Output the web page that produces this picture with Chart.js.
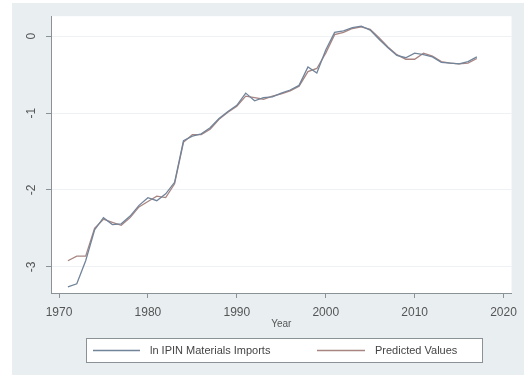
<!DOCTYPE html>
<html>
<head>
<meta charset="utf-8">
<script src="https://cdn.jsdelivr.net/npm/chart.js@4"></script>
<style>
  html, body { margin: 0; padding: 0; background: #ffffff; }
  #wrap { position: absolute; left: 0; top: 0; width: 524px; height: 378px; }
</style>
</head>
<body>
<div id="wrap"><canvas id="grafico" width="524" height="378"></canvas></div>
<script>
// Dados
const anos = [1971, 1972, 1973, 1974, 1975, 1976, 1977, 1978, 1979, 1980,
  1981, 1982, 1983, 1984, 1985, 1986, 1987, 1988, 1989, 1990,
  1991, 1992, 1993, 1994, 1995, 1996, 1997, 1998, 1999, 2000,
  2001, 2002, 2003, 2004, 2005, 2006, 2007, 2008, 2009, 2010,
  2011, 2012, 2013, 2014, 2015, 2016, 2017];

const importacoes = [-3.26, -3.22, -2.92, -2.52, -2.36, -2.45, -2.44, -2.34, -2.20, -2.10,
  -2.14, -2.05, -1.90, -1.36, -1.30, -1.27, -1.19, -1.07, -0.98, -0.90,
  -0.74, -0.84, -0.80, -0.79, -0.74, -0.70, -0.64, -0.40, -0.48, -0.18,
  0.05, 0.07, 0.11, 0.13, 0.08, -0.04, -0.15, -0.25, -0.28, -0.22,
  -0.24, -0.27, -0.34, -0.35, -0.36, -0.33, -0.27];

const previstos = [-2.92, -2.86, -2.86, -2.50, -2.38, -2.42, -2.46, -2.36, -2.22, -2.15,
  -2.08, -2.10, -1.92, -1.38, -1.28, -1.28, -1.21, -1.08, -0.99, -0.91,
  -0.78, -0.80, -0.82, -0.78, -0.75, -0.71, -0.65, -0.46, -0.42, -0.22,
  0.02, 0.05, 0.10, 0.12, 0.09, -0.02, -0.14, -0.24, -0.30, -0.30,
  -0.22, -0.26, -0.33, -0.35, -0.36, -0.35, -0.29];

const ticksX = [1970, 1980, 1990, 2000, 2010, 2020];
const ticksY = [-3, -2, -1, 0];
const rotulos = ['ln IPIN Materials Imports', 'Predicted Values'];

const corReal = '#71849a';
const corPrevista = '#a98582';

// Fundo estilo Stata: região cinza-azulada e área do gráfico branca
const fundoPlugin = {
  id: 'fundo',
  beforeDraw(chart) {
    const c = chart.ctx;
    const a = chart.chartArea;
    c.save();
    c.fillStyle = '#ffffff';
    c.fillRect(0, 0, chart.width, chart.height);
    c.fillStyle = '#e9eef1';
    c.fillRect(12, 3, chart.width - 12, chart.height - 6);
    c.fillStyle = '#ffffff';
    c.fillRect(a.left, a.top, a.right - a.left, a.bottom - a.top);
    c.restore();
  }
};

// Legenda com caixa, desenhada à mão
const legendaPlugin = {
  id: 'legendaCaixa',
  afterDraw(chart) {
    const c = chart.ctx;
    c.save();
    c.fillStyle = '#ffffff';
    c.fillRect(86, 338, 396, 24);
    c.strokeStyle = '#8a9298';
    c.lineWidth = 1;
    c.strokeRect(86.5, 338.5, 396, 24);
    c.font = '11px "Liberation Sans", Arial, sans-serif';
    c.textBaseline = 'middle';
    c.fillStyle = '#444';
    const itens = [
      { x1: 93, x2: 140, tx: 150, cor: corReal, txt: rotulos[0] },
      { x1: 317, x2: 365, tx: 375, cor: corPrevista, txt: rotulos[1] }
    ];
    itens.forEach(it => {
      c.strokeStyle = it.cor;
      c.lineWidth = 1.3;
      c.beginPath();
      c.moveTo(it.x1, 350.5);
      c.lineTo(it.x2, 350.5);
      c.stroke();
      c.fillText(it.txt, it.tx, 350.5);
    });
    c.restore();
  }
};

const ctx = document.getElementById('grafico').getContext('2d');
const grafico = new Chart(ctx, {
  type: 'line',
  data: {
    labels: anos,
    datasets: [{
      label: rotulos[0],
      data: anos.map((a, i) => ({ x: a, y: importacoes[i] })),
      borderColor: corReal,
      borderWidth: 1.3,
      pointRadius: 0,
      tension: 0,
      fill: false
    }, {
      label: rotulos[1],
      data: anos.map((a, i) => ({ x: a, y: previstos[i] })),
      borderColor: corPrevista,
      borderWidth: 1.3,
      pointRadius: 0,
      tension: 0,
      fill: false
    }]
  },
  options: {
    responsive: false,
    animation: false,
    layout: { padding: { left: 0, top: 15, right: 6, bottom: 0 } },
    plugins: {
      legend: { display: false },
      tooltip: { enabled: false }
    },
    scales: {
      x: {
        type: 'linear',
        min: 1969.1,
        max: 2020.9,
        afterBuildTicks: (s) => { s.ticks = ticksX.map(v => ({ value: v })); },
        afterFit: (s) => { s.height = 85; },
        grid: { drawOnChartArea: false, drawTicks: true, tickLength: 5, tickColor: '#8a9298' },
        border: { display: true, color: '#8a9298', width: 1 },
        ticks: {
          padding: 7,
          maxRotation: 0,
          color: '#555',
          font: { family: '"Liberation Sans", Arial, sans-serif', size: 12 },
          callback: (v) => String(v)
        },
        title: {
          display: true,
          text: 'Year',
          color: '#555',
          font: { family: '"Liberation Sans", Arial, sans-serif', size: 10 },
          padding: { top: 0, bottom: 48 }
        }
      },
      y: {
        min: -3.34,
        max: 0.26,
        afterBuildTicks: (s) => { s.ticks = ticksY.map(v => ({ value: v })); },
        afterFit: (s) => { s.width = 51; },
        grid: { color: '#eef2f4', drawTicks: true, tickLength: 5, tickColor: '#8a9298' },
        border: { display: true, color: '#8a9298', width: 1 },
        ticks: {
          minRotation: 90,
          maxRotation: 90,
          crossAlign: 'center',
          padding: 9,
          color: '#555',
          font: { family: '"Liberation Sans", Arial, sans-serif', size: 12 },
          callback: (v) => String(v)
        }
      }
    }
  },
  plugins: [fundoPlugin, legendaPlugin]
});
</script>
</body>
</html>
